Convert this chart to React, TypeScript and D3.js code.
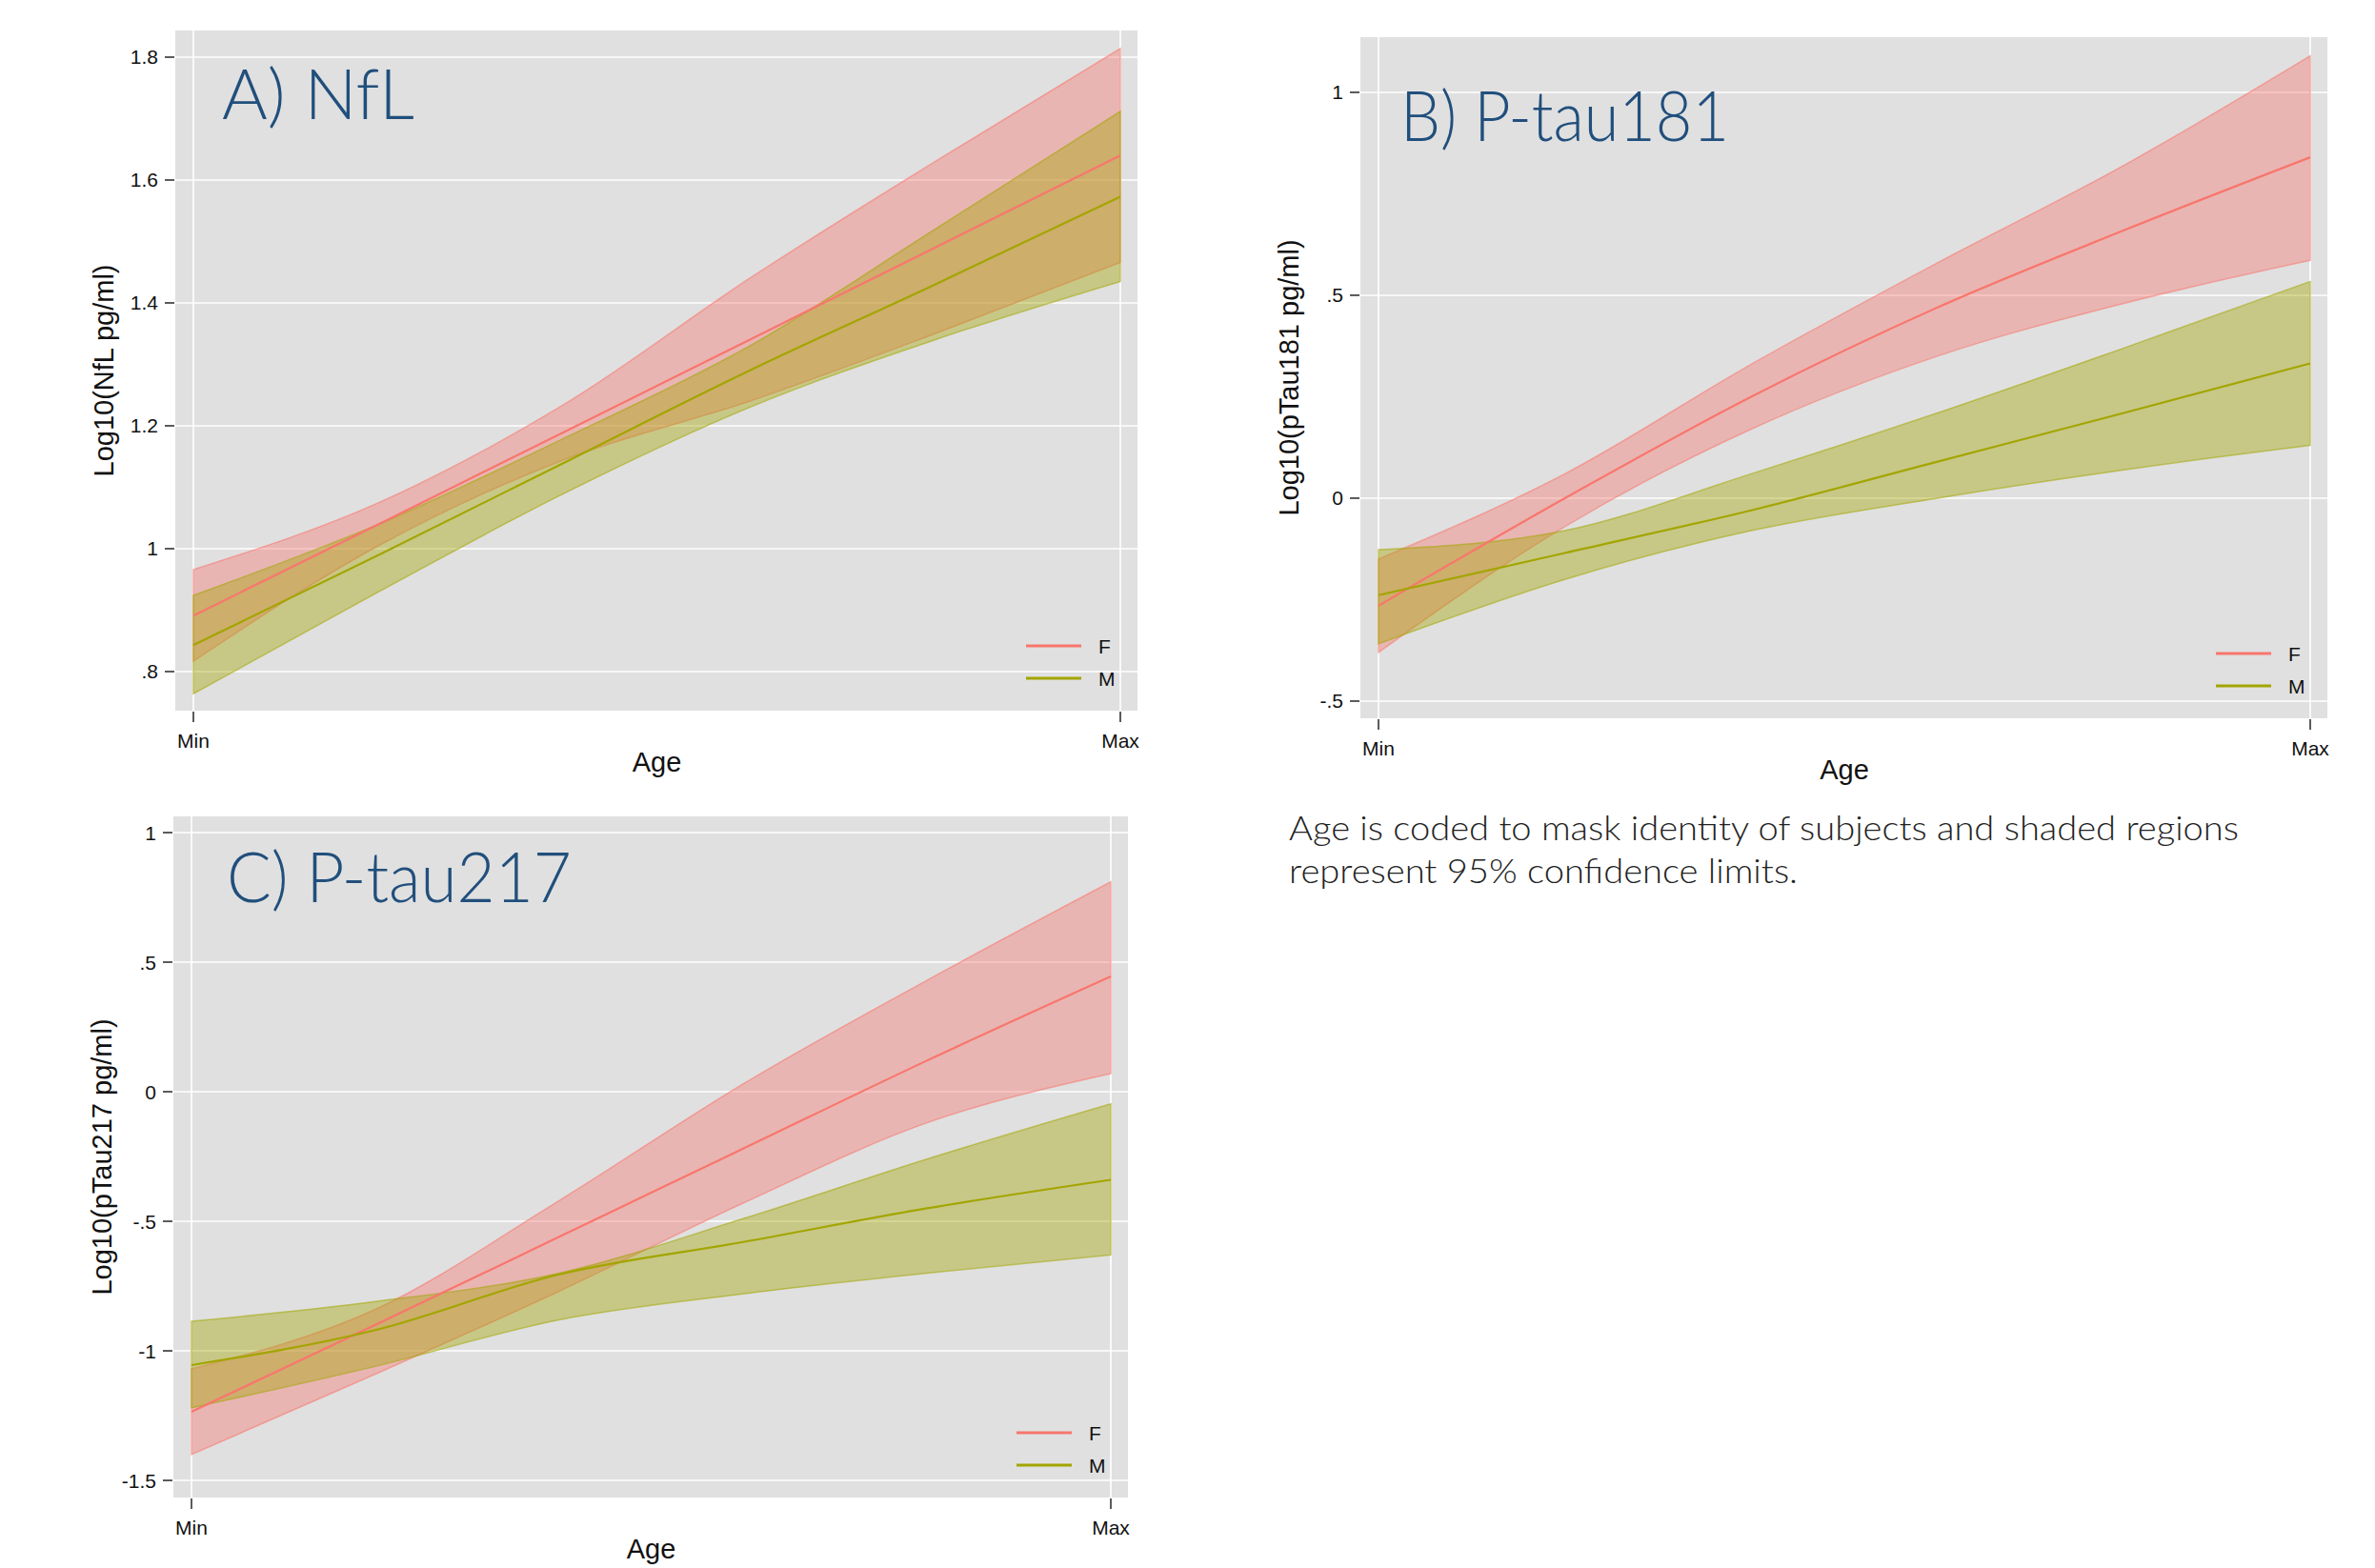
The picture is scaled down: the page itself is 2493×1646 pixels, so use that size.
import { useRef, useEffect } from 'react';
import * as d3 from 'd3';

const W = 2493;
const H = 1646;

// age is coded Min..Max, read at these fractions of the range
const AGE_FRAC = [0, 0.2, 0.4, 0.6, 0.8, 1];
const X_TICKS = ['Min', 'Max'];
const SEXES = ['F', 'M'];

// A) NfL
const NFL_F = [0.891, 1.04, 1.19, 1.34, 1.49, 1.64];
const NFL_F_LO = [0.817, 1.005, 1.145, 1.24, 1.35, 1.466];
const NFL_F_HI = [0.966, 1.075, 1.235, 1.44, 1.63, 1.814];
const NFL_M = [0.843, 0.99, 1.14, 1.29, 1.43, 1.573];
const NFL_M_LO = [0.764, 0.93, 1.09, 1.23, 1.34, 1.435];
const NFL_M_HI = [0.924, 1.04, 1.18, 1.33, 1.52, 1.712];
const NFL_TICKS = [0.8, 1, 1.2, 1.4, 1.6, 1.8];

// B) P-tau181
const T181_F = [-0.265, 0.0, 0.25, 0.47, 0.66, 0.84];
const T181_F_LO = [-0.38, -0.07, 0.17, 0.35, 0.48, 0.586];
const T181_F_HI = [-0.15, 0.06, 0.33, 0.58, 0.82, 1.09];
const T181_M = [-0.239, -0.135, -0.03, 0.09, 0.21, 0.332];
const T181_M_LO = [-0.359, -0.2, -0.08, 0.0, 0.07, 0.13];
const T181_M_HI = [-0.127, -0.08, 0.06, 0.21, 0.37, 0.534];
const T181_TICKS = [-0.5, 0, 0.5, 1];

// C) P-tau217
const T217_F = [-1.235, -0.9, -0.56, -0.22, 0.12, 0.445];
const T217_F_LO = [-1.4, -1.09, -0.77, -0.43, -0.12, 0.07];
const T217_F_HI = [-1.07, -0.84, -0.42, 0.03, 0.43, 0.81];
const T217_M = [-1.055, -0.92, -0.705, -0.58, -0.45, -0.34];
const T217_M_LO = [-1.22, -1.06, -0.88, -0.78, -0.7, -0.63];
const T217_M_HI = [-0.886, -0.81, -0.7, -0.49, -0.26, -0.047];
const T217_TICKS = [-1.5, -1, -0.5, 0, 0.5, 1];

const CAPTION = [
  'Age is coded to mask identity of subjects and shaded regions',
  'represent 95%  confidence limits.',
];

const COLORS = { F: '#f8766d', M: '#a3a500' };
const BG = '#e0e0e0';
const TITLE_BLUE = '#214f7c';
const AXIS_FONT = '"Liberation Sans", Arial, sans-serif';

// Stata style: ".5" instead of "0.5"
const fmtTick = (v: number) => {
  if (v === 0) return '0';
  return String(v).replace(/^(-?)0\./, '$1.');
};

type Panel = {
  title: string;
  titleWidth: number;
  ylabel: string;
  ticks: number[];
  domain: [number, number];
  box: { left: number; top: number; right: number; bottom: number };
  titlePos: [number, number];
  series: { F: number[][]; M: number[][] };
};

const PANELS: Panel[] = [
  {
    title: 'A) NfL',
    titleWidth: 202,
    ylabel: 'Log10(NfL pg/ml)',
    ticks: NFL_TICKS,
    domain: [0.7364, 1.8434],
    box: { left: 184, top: 32, right: 1194, bottom: 746 },
    titlePos: [233, 125],
    series: { F: [NFL_F, NFL_F_LO, NFL_F_HI], M: [NFL_M, NFL_M_LO, NFL_M_HI] },
  },
  {
    title: 'B) P-tau181',
    titleWidth: 345,
    ylabel: 'Log10(pTau181 pg/ml)',
    ticks: T181_TICKS,
    domain: [-0.5423, 1.136],
    box: { left: 1428, top: 39, right: 2443, bottom: 754 },
    titlePos: [1470, 148],
    series: { F: [T181_F, T181_F_LO, T181_F_HI], M: [T181_M, T181_M_LO, T181_M_HI] },
  },
  {
    title: 'C) P-tau217',
    titleWidth: 362,
    ylabel: 'Log10(pTau217 pg/ml)',
    ticks: T217_TICKS,
    domain: [-1.566, 1.0625],
    box: { left: 182, top: 857, right: 1184, bottom: 1572 },
    titlePos: [238, 947],
    series: { F: [T217_F, T217_F_LO, T217_F_HI], M: [T217_M, T217_M_LO, T217_M_HI] },
  },
];

function drawPanel(svg: d3.Selection<SVGSVGElement, unknown, null, undefined>, p: Panel) {
  const { left, top, right, bottom } = p.box;
  const g = svg.append('g');
  const x = d3.scaleLinear().domain([0, 1]).range([left + 19, right - 18]);
  const y = d3.scaleLinear().domain(p.domain).range([bottom, top]);

  g.append('rect')
    .attr('x', left).attr('y', top)
    .attr('width', right - left).attr('height', bottom - top)
    .attr('fill', BG);

  // grid
  p.ticks.forEach(t => {
    g.append('line')
      .attr('x1', left).attr('x2', right)
      .attr('y1', y(t)).attr('y2', y(t))
      .attr('stroke', '#fff').attr('stroke-width', 1.6);
  });
  [0, 1].forEach(v => {
    g.append('line')
      .attr('x1', x(v)).attr('x2', x(v))
      .attr('y1', top).attr('y2', bottom)
      .attr('stroke', '#fff').attr('stroke-width', 1.6);
  });

  // y axis ticks
  p.ticks.forEach(t => {
    g.append('line')
      .attr('x1', left - 11).attr('x2', left - 1)
      .attr('y1', y(t)).attr('y2', y(t))
      .attr('stroke', '#333').attr('stroke-width', 1.6);
    g.append('text')
      .attr('x', left - 18).attr('y', y(t) + 7.5)
      .attr('text-anchor', 'end')
      .style('font-family', AXIS_FONT)
      .style('font-size', '21px').attr('fill', '#111')
      .text(fmtTick(t));
  });

  // x axis ticks
  X_TICKS.forEach((lab, i) => {
    g.append('line')
      .attr('x1', x(i)).attr('x2', x(i))
      .attr('y1', bottom + 1).attr('y2', bottom + 12)
      .attr('stroke', '#333').attr('stroke-width', 1.6);
    g.append('text')
      .attr('x', x(i)).attr('y', bottom + 39)
      .attr('text-anchor', 'middle')
      .style('font-family', AXIS_FONT)
      .style('font-size', '21px').attr('fill', '#111')
      .text(lab);
  });

  // axis titles
  g.append('text')
    .attr('x', (x(0) + x(1)) / 2).attr('y', bottom + 64)
    .attr('text-anchor', 'middle')
    .style('font-family', AXIS_FONT)
    .style('font-size', '29px').attr('fill', '#111')
    .text('Age');
  g.append('text')
    .attr('transform', `translate(${left - 65},${(top + bottom) / 2}) rotate(-90)`)
    .attr('text-anchor', 'middle')
    .style('font-family', AXIS_FONT)
    .style('font-size', '29px').attr('fill', '#111')
    .text(p.ylabel);

  // bands then lines, F first so M sits on top
  SEXES.forEach(s => {
    const [mid, lo, hi] = p.series[s as 'F' | 'M'];
    const area = d3.area<number>()
      .x((_, i) => x(AGE_FRAC[i]))
      .y0((_, i) => y(lo[i]))
      .y1((_, i) => y(hi[i]))
      .curve(d3.curveMonotoneX);
    g.append('path')
      .attr('d', area(mid))
      .attr('fill', COLORS[s as 'F' | 'M']).attr('fill-opacity', 0.4)
      .attr('stroke', COLORS[s as 'F' | 'M']).attr('stroke-opacity', 0.55)
      .attr('stroke-width', 1.5);
  });
  SEXES.forEach(s => {
    const [mid] = p.series[s as 'F' | 'M'];
    const line = d3.line<number>()
      .x((_, i) => x(AGE_FRAC[i]))
      .y(d => y(d))
      .curve(d3.curveMonotoneX);
    g.append('path')
      .attr('d', line(mid))
      .attr('fill', 'none')
      .attr('stroke', COLORS[s as 'F' | 'M']).attr('stroke-width', 2.2);
  });

  // legend
  SEXES.forEach((s, i) => {
    const ly = bottom - 68 + i * 34;
    g.append('line')
      .attr('x1', right - 117).attr('x2', right - 59)
      .attr('y1', ly).attr('y2', ly)
      .attr('stroke', COLORS[s as 'F' | 'M']).attr('stroke-width', 3);
    g.append('text')
      .attr('x', right - 41).attr('y', ly + 7.5)
      .style('font-family', AXIS_FONT)
      .style('font-size', '21px').attr('fill', '#111')
      .text(s);
  });

  // panel title
  g.append('text')
    .attr('x', p.titlePos[0]).attr('y', p.titlePos[1])
    .style('font-family', 'Lato, "Open Sans", sans-serif')
    .style('font-weight', 300)
    .style('font-size', '72px').attr('fill', TITLE_BLUE)
    .attr('textLength', p.titleWidth)
    .attr('lengthAdjust', 'spacingAndGlyphs')
    .text(p.title);
}

export default function App() {
  const svgRef = useRef<SVGSVGElement>(null);

  useEffect(() => {
    if (!svgRef.current) return;
    const svg = d3.select(svgRef.current);
    svg.selectAll('*').remove();

    svg.append('rect').attr('width', W).attr('height', H).attr('fill', '#fff');
    PANELS.forEach(p => drawPanel(svg, p));

    CAPTION.forEach((line, i) => {
      svg.append('text')
        .attr('x', 1353).attr('y', 882 + i * 45)
        .style('font-family', 'Lato, "Open Sans", sans-serif')
        .style('font-weight', 300)
        .style('font-size', '35px').attr('fill', '#222')
        .attr('textLength', i === 0 ? 997 : 534)
        .attr('lengthAdjust', 'spacingAndGlyphs')
        .text(line);
    });
  }, []);

  return (
    <svg
      ref={svgRef}
      width={W}
      height={H}
      style={{ position: 'absolute', left: 0, top: 0, display: 'block' }}
    />
  );
}
